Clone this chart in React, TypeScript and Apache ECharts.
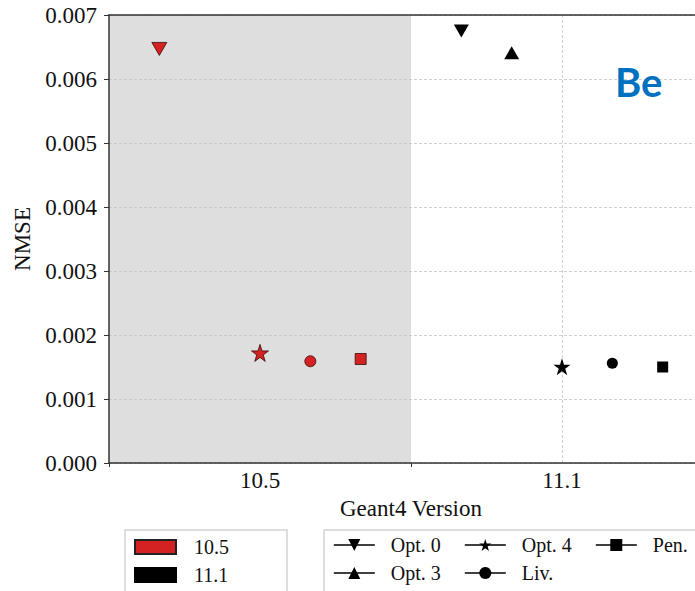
import React, { useEffect, useRef } from "react";
import * as echarts from "echarts";

// ---- data ----
const versions = ["10.5", "11.1"];
const versionColors = ["#d42222", "#000000"];
const methods = ["Opt. 0", "Opt. 3", "Opt. 4", "Liv.", "Pen."];
const nmse105: (number | null)[] = [0.00647, null, 0.00172, 0.00159, 0.001625];
const nmse111: (number | null)[] = [0.00675, 0.00641, 0.001505, 0.00156, 0.0015];
const yTicks = [0, 0.001, 0.002, 0.003, 0.004, 0.005, 0.006, 0.007];
const legendColumns = [["Opt. 0", "Opt. 3"], ["Opt. 4", "Liv."], ["Pen."]];

const STAR =
  "path://M0,-100L22.45,-30.9L95.1,-30.9L36.3,11.8L58.8,80.9L0,38.2L-58.8,80.9L-36.3,11.8L-95.1,-30.9L-22.45,-30.9Z";
const methodSymbols: any[] = ["triangle", "triangle", STAR, "circle", "rect"];
const methodRotate = [180, 0, 0, 0, 0];
const methodSizes: any[] = [[15, 13], [15, 13], 17, 11, 11];

const SERIF = "'Liberation Serif', 'Times New Roman', serif";

export default function App() {
  const ref = useRef<HTMLDivElement>(null);
  useEffect(() => {
    if (!ref.current) return;
    const chart = echarts.init(ref.current, undefined, { renderer: "svg" });
    const allValues = [nmse105, nmse111];
    const nM = methods.length;

    const methodSeries = methods.map((m, j) => {
      const off = (j - (nM - 1) / 2) / (nM + 1);
      const data: any[] = [];
      versions.forEach((v, i) => {
        const val = allValues[i][j];
        if (val == null) return;
        data.push({
          value: [i + off, val],
          itemStyle:
            i === 0
              ? { color: versionColors[0], borderColor: "#3a0a0a", borderWidth: 0.8, opacity: 1 }
              : { color: versionColors[1], borderWidth: 0, opacity: 1 },
        });
      });
      return {
        type: "line",
        name: m,
        data,
        symbol: methodSymbols[j],
        symbolRotate: methodRotate[j],
        symbolSize: methodSizes[j],
        showSymbol: true,
        itemStyle: { color: "#000", opacity: 1 },
        lineStyle: { width: 0, opacity: 0 },
        z: 5,
      };
    });

    const versionSeries = versions.map((v, i) => ({
      type: "scatter",
      name: v,
      data: [],
      itemStyle: {
        color: versionColors[i],
        borderColor: i === 0 ? "#222" : versionColors[i],
        borderWidth: 1,
        opacity: 1,
      },
    }));

    const shadeSeries = {
      type: "scatter",
      name: "shade",
      data: [],
      z: 0,
      silent: true,
      markArea: {
        silent: true,
        itemStyle: { color: "#dedede", opacity: 1 },
        data: [[{ xAxis: -0.5 }, { xAxis: 0.5 }]],
      },
    };

    const methodLegends = legendColumns.map((col, k) => ({
      data: col,
      orient: "vertical",
      left: 333 + k * 131,
      top: 535,
      height: 100,
      padding: 0,
      itemGap: 8,
      itemWidth: 41,
      itemHeight: 15,
      selectedMode: false,
      lineStyle: { width: 1.6, color: "#000", opacity: 1 },
      itemStyle: { color: "#000", borderWidth: 0, opacity: 1 },
      textStyle: {
        fontFamily: SERIF,
        fontSize: 20,
        color: "#111",
        padding: [0, 0, 0, 11],
      },
    }));

    const option: any = {
      animation: false,
      grid: { left: 109, right: 7, top: 15, bottom: 128 },
      xAxis: [
        {
          type: "value",
          min: -0.5,
          max: versions.length - 0.5,
          position: "bottom",
          z: 1,
          name: "Geant4 Version",
          nameLocation: "middle",
          nameGap: 32,
          nameTextStyle: { fontFamily: SERIF, fontSize: 23, color: "#111" },
          axisLine: { show: false, onZero: false },
          axisTick: { show: false, customValues: versions.map((_, i) => i) },
          axisLabel: {
            customValues: versions.map((_, i) => i),
            formatter: (val: number) => versions[Math.round(val)] ?? "",
            fontFamily: SERIF,
            fontSize: 23,
            color: "#111",
            margin: 6,
          },
          splitLine: {
            show: true,
            lineStyle: { color: "#c4c4c4", type: [3, 2], width: 0.8 },
          },
        },
        {
          type: "value",
          min: -0.5,
          max: versions.length - 0.5,
          interval: 1,
          position: "bottom",
          z: 3,
          axisLine: { show: true, onZero: false, lineStyle: { color: "#333", width: 1.5 } },
          axisTick: { show: true, length: 4, lineStyle: { color: "#333", width: 1 } },
          axisLabel: { show: false },
          splitLine: { show: false },
        },
        {
          type: "value",
          min: -0.5,
          max: versions.length - 0.5,
          position: "top",
          z: 3,
          axisLine: { show: true, onZero: false, lineStyle: { color: "#333", width: 1.5 } },
          axisTick: { show: false },
          axisLabel: { show: false },
          splitLine: { show: false },
        },
      ],
      yAxis: {
        type: "value",
        min: yTicks[0],
        max: yTicks[yTicks.length - 1],
        interval: yTicks[1] - yTicks[0],
        z: 3,
        name: "NMSE",
        nameLocation: "middle",
        nameGap: 65,
        nameTextStyle: { fontFamily: SERIF, fontSize: 23, color: "#111" },
        axisLine: { show: true, onZero: false, lineStyle: { color: "#333", width: 1.5 } },
        axisTick: { show: true, length: 5, lineStyle: { color: "#333", width: 1 } },
        axisLabel: {
          formatter: (v: number) => v.toFixed(3),
          fontFamily: SERIF,
          fontSize: 23,
          color: "#111",
          margin: 12,
        },
        splitLine: {
          show: true,
          lineStyle: { color: "#c4c4c4", type: [3, 2], width: 0.8 },
        },
      },
      legend: [
        {
          data: versions,
          orient: "vertical",
          left: 134,
          top: 537,
          height: 100,
          padding: 0,
          itemGap: 8,
          itemWidth: 41,
          itemHeight: 14,
          icon: "rect",
          selectedMode: false,
          textStyle: {
            fontFamily: SERIF,
            fontSize: 20,
            color: "#111",
            padding: [0, 0, 0, 13],
          },
        },
        ...methodLegends,
      ],
      graphic: [
        {
          type: "rect",
          shape: { x: 125, y: 530, width: 162, height: 80 },
          style: { fill: "none", stroke: "#d4d4d4", lineWidth: 1.5 },
          z: 0,
        },
        {
          type: "rect",
          shape: { x: 324, y: 530, width: 380, height: 80 },
          style: { fill: "none", stroke: "#d4d4d4", lineWidth: 1.5 },
          z: 0,
        },
        {
          type: "text",
          left: 615,
          top: 62,
          style: {
            text: "Be",
            font: "bold 40px Lato, 'Open Sans', sans-serif",
            fill: "#0070c0",
          },
          z: 10,
        },
      ],
      series: [shadeSeries, ...versionSeries, ...methodSeries],
    };
    chart.setOption(option);
    return () => chart.dispose();
  }, []);

  return (
    <div
      style={{
        position: "absolute",
        left: 0,
        top: 0,
        width: 695,
        height: 591,
        overflow: "hidden",
        background: "#fff",
      }}
    >
      <div ref={ref} style={{ width: 720, height: 591 }} />
    </div>
  );
}
